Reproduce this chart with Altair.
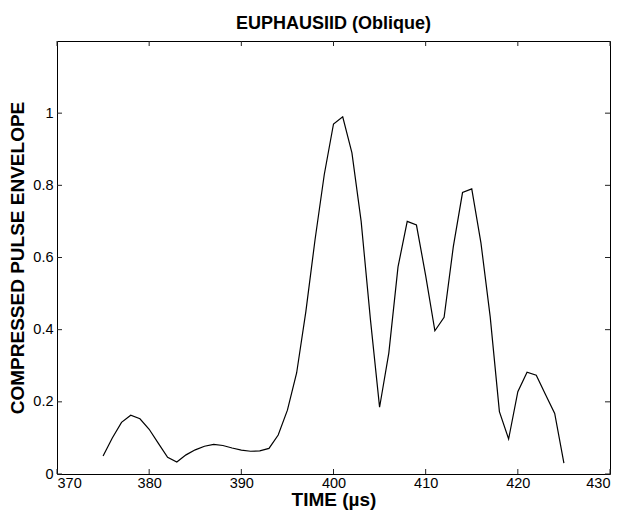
import altair as alt
import pandas as pd

# Data
times = list(range(375, 426))
envelope = [
    0.05, 0.10, 0.143, 0.163, 0.153, 0.124, 0.085, 0.046, 0.033,
    0.053, 0.067, 0.077, 0.082, 0.079, 0.072, 0.066, 0.063, 0.064, 0.071,
    0.108, 0.177, 0.28, 0.45, 0.65, 0.83, 0.97, 0.99, 0.89, 0.70,
    0.43, 0.185, 0.335, 0.574, 0.70, 0.69, 0.55, 0.397, 0.434, 0.63,
    0.78, 0.79, 0.64, 0.436, 0.173, 0.097, 0.228, 0.282, 0.274, 0.22,
    0.168, 0.03,
]
x_ticks = [370, 380, 390, 400, 410, 420, 430]
y_ticks = [0, 0.2, 0.4, 0.6, 0.8, 1.0]

W, H = 553, 433
FONT = "Liberation Sans"
XT = "TIME (µs)"
YT = "COMPRESSED PULSE ENVELOPE"

df = pd.DataFrame({"t": times, "v": envelope})
xt_df = pd.DataFrame({"t": x_ticks})
yt_df = pd.DataFrame({"v": y_ticks})

xscale = alt.Scale(domain=[370, 430], nice=False, zero=False)
yscale = alt.Scale(domain=[0, 1.2], nice=False)

xaxis = alt.Axis(values=x_ticks, ticks=False, domain=False, grid=False,
                 labelPadding=2, labelFontSize=14.5, labelColor="black",
                 titleFontSize=19, titleFontWeight="bold", titleColor="black",
                 titlePadding=1, labelFont=FONT, titleFont=FONT)
yaxis = alt.Axis(values=y_ticks, format="~g", ticks=False, domain=False, grid=False,
                 labelPadding=4, labelFontSize=14.5, labelColor="black",
                 titleFontSize=19, titleFontWeight="bold", titleColor="black",
                 titlePadding=5, labelFont=FONT, titleFont=FONT)

X = lambda: alt.X("t:Q", scale=xscale, title=XT, axis=xaxis)
Y = lambda: alt.Y("v:Q", scale=yscale, title=YT, axis=yaxis)

line = alt.Chart(df).mark_line(color="black", strokeWidth=1.2).encode(x=X(), y=Y())

tick_color = "#222"
left_ticks = alt.Chart(yt_df).mark_rule(color=tick_color, strokeWidth=1).encode(
    y=Y(), x=alt.value(0), x2=alt.value(5))
right_ticks = alt.Chart(yt_df).mark_rule(color=tick_color, strokeWidth=1).encode(
    y=Y(), x=alt.value(W - 5), x2=alt.value(W))
bottom_ticks = alt.Chart(xt_df).mark_rule(color=tick_color, strokeWidth=1).encode(
    x=X(), y=alt.value(H - 5), y2=alt.value(H))
top_ticks = alt.Chart(xt_df).mark_rule(color=tick_color, strokeWidth=1).encode(
    x=X(), y=alt.value(0), y2=alt.value(5))

chart = alt.layer(line, left_ticks, right_ticks, bottom_ticks, top_ticks).properties(
    width=W, height=H,
    view=alt.ViewBackground(stroke="black", strokeWidth=1, strokeOpacity=1),
    title=alt.TitleParams("EUPHAUSIID (Oblique)", fontSize=18, fontWeight="bold",
                          font=FONT, color="black", anchor="middle", offset=8),
    autosize=alt.AutoSizeParams(type="none"),
    padding={"left": 49, "top": 33, "right": 8, "bottom": 50},
).configure(
    background="white",
    view=alt.ViewConfig(stroke="black", strokeWidth=1),
)

chart.save("out.html", embed_options={"renderer": "svg", "actions": False})
